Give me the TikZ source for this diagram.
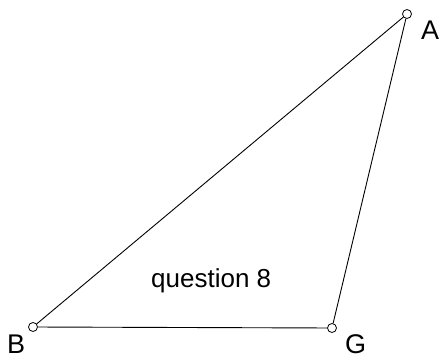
\documentclass[tikz,border=0pt]{standalone}
\usepackage{fontspec}
\setmainfont{Liberation Sans}
\begin{document}
\begin{tikzpicture}[x=1pt, y=-1pt,
  vertex/.style={circle, draw, fill=white, inner sep=0pt, minimum size=9pt, line width=0.8pt},
  vlabel/.style={font=\fontsize{27}{31}\selectfont, inner sep=0pt, anchor=base west},
  side/.style={line width=0.9pt}
]
  \useasboundingbox (0,0) rectangle (439,358);
  % Vertices
  \node[vertex] (A) at (407,14) {};
  \node[vertex] (B) at (33,327) {};
  \node[vertex] (G) at (332,328) {};
  % Labels
  \node[vlabel] (labA) at (421,40) {A};
  \node[vlabel] (labB) at (7,353) {B};
  \node[vlabel] (labG) at (345,353) {G};
  \node[vlabel, font=\fontsize{26}{30}\selectfont] (caption) at (151,287) {question 8};
  % Sides
  \draw[side] (A) -- (B);
  \draw[side] (B) -- (G);
  \draw[side] (G) -- (A);
\end{tikzpicture}
\end{document}
